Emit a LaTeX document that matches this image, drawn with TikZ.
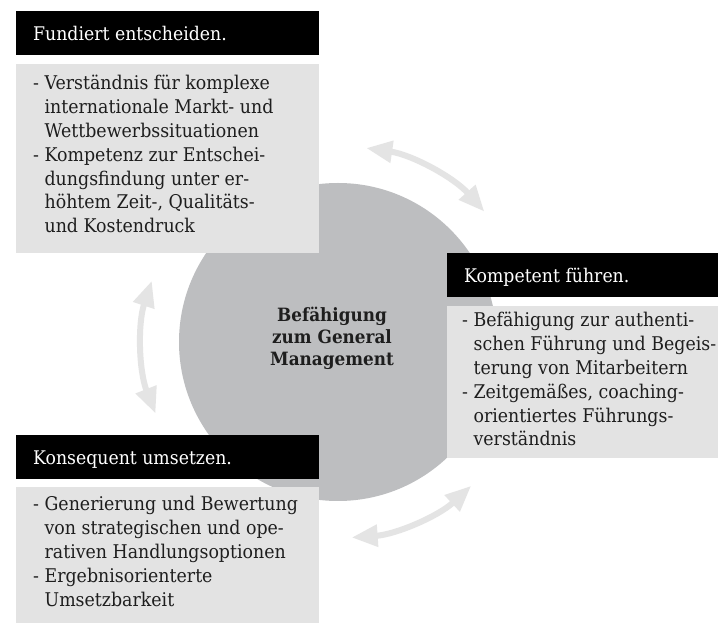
\documentclass[tikz,border=0pt]{standalone}
\usepackage{fontspec}
\setmainfont{DejaVu Serif}[FakeStretch=0.92]
\usetikzlibrary{arrows.meta}
\definecolor{bodygray}{HTML}{E3E3E3}
\definecolor{circgray}{HTML}{BDBEC0}
\definecolor{arrgray}{HTML}{E4E4E4}
\definecolor{txt}{HTML}{1E1E1E}
\newcommand\mylines[1]{\begin{tabular}[t]{@{}l@{}}#1\end{tabular}}
\newcommand\ind{\hphantom{- }}
\begin{document}
\begin{tikzpicture}[x=1pt,y=1pt,
  hdrbox/.style={rectangle, fill=black, draw=none, anchor=north west, inner sep=0pt},
  bodybox/.style={rectangle, fill=bodygray, draw=none, anchor=north west, inner sep=0pt},
  hdrtext/.style={anchor=base west, inner sep=0pt, text=white, font=\fontsize{18.8}{23.8}\selectfont},
  bodytext/.style={anchor=base west, inner sep=0pt, text=txt, font=\fontsize{18.9}{23.8}\selectfont},
  cyc/.style={draw=arrgray, line width=6pt, {Triangle[length=26pt,width=21pt]}-{Triangle[length=26pt,width=21pt]}},
]
\useasboundingbox (0,0) rectangle (718,624);
\fill[white] (0,0) rectangle (718,624);

% central circle
\node[circle, fill=circgray, draw=none, minimum size=318pt, inner sep=0pt] (core) at (338,282) {};
\node[anchor=base, inner sep=0pt, text=txt, font=\fontsize{18.3}{21.7}\selectfont\bfseries] (coretxt) at (332,302)
  {\begin{tabular}[t]{@{}c@{}}Befähigung\\zum General\\Management\end{tabular}};

% cycle arrows
\coordinate (a1s) at ([shift={(81.7:196)}]core.center);
\coordinate (a2s) at ([shift={(161.8:196)}]core.center);
\coordinate (a3s) at ([shift={(274:196)}]core.center);
\draw[cyc] (a1s) arc[start angle=81.7, end angle=41.7, radius=196];
\draw[cyc] (a2s) arc[start angle=161.8, end angle=201.4, radius=196];
\draw[cyc] (a3s) arc[start angle=274, end angle=312.8, radius=196];

% box 1
\node[hdrbox, minimum width=303pt, minimum height=44pt] (h1) at (16,613) {};
\node[hdrtext] (h1t) at (33,583.3) {Fundiert entscheiden.};
\node[bodybox, minimum width=303pt, minimum height=189pt] (b1) at (16,560) {};
\node[bodytext] (b1t) at (33,534) {\mylines{%
- Verständnis für komplexe\\
\ind internationale Markt- und\\
\ind Wettbewerbssituationen\\
- Kompetenz zur Entschei-\\
\ind dungsfindung unter er-\\
\ind höhtem Zeit-, Qualitäts-\\
\ind und Kostendruck}};

% box 2
\node[hdrbox, minimum width=271pt, minimum height=44pt] (h2) at (447,371) {};
\node[hdrtext] (h2t) at (464,341) {Kompetent führen.};
\node[bodybox, minimum width=271pt, minimum height=152pt] (b2) at (447,318) {};
\node[bodytext] (b2t) at (462,297) {\mylines{%
- Befähigung zur authenti-\\
\ind schen Führung und Begeis-\\
\ind terung von Mitarbeitern\\
- Zeitgemäßes, coaching-\\
\ind orientiertes Führungs-\\
\ind verständnis}};

% box 3
\node[hdrbox, minimum width=303pt, minimum height=44pt] (h3) at (16,189) {};
\node[hdrtext] (h3t) at (33,159) {Konsequent umsetzen.};
\node[bodybox, minimum width=303pt, minimum height=136pt] (b3) at (16,137) {};
\node[bodytext] (b3t) at (33,113) {\mylines{%
- Generierung und Bewertung\\
\ind von strategischen und ope-\\
\ind rativen Handlungsoptionen\\
- Ergebnisorienterte\\
\ind Umsetzbarkeit}};
\end{tikzpicture}
\end{document}
